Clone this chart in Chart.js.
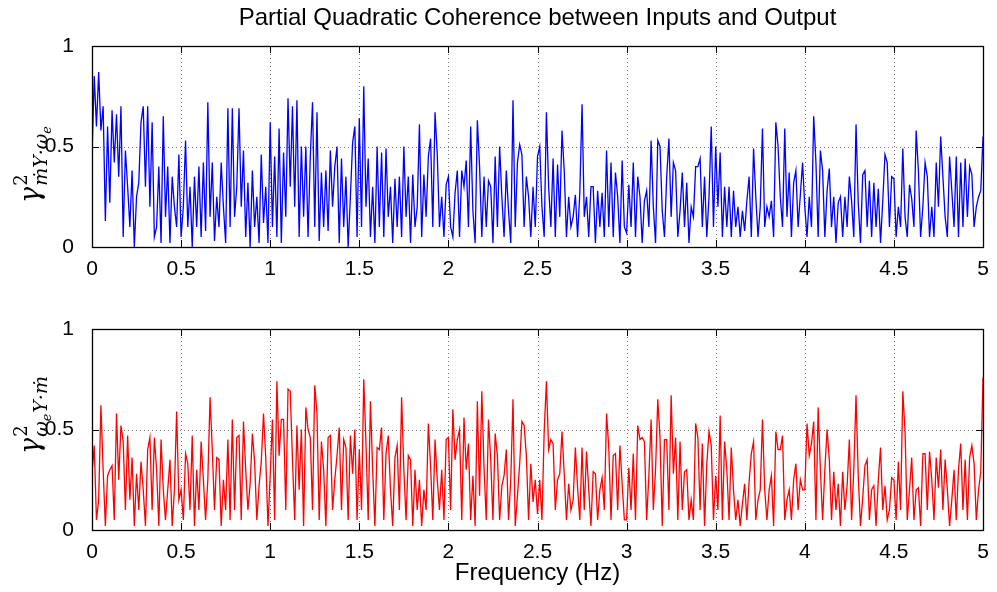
<!DOCTYPE html>
<html lang="en">
<head>
<meta charset="UTF-8">
<title>Partial Quadratic Coherence between Inputs and Output</title>
<script src="https://cdn.jsdelivr.net/npm/chart.js"></script>
<style>
    body { margin: 0; background: #fff; }
    .panel { position: absolute; left: 0; width: 997px; height: 296px; }
</style>
</head>
<body>
<div class="panel" style="top:0"><canvas id="topChart"></canvas></div>
<div class="panel" style="top:296px"><canvas id="bottomChart"></canvas></div>

<script>
// frequency axis 0..5 Hz, samples evenly spaced
var freqMax = 5;
var xTickStep = 0.5;
var yTickStep = 0.5;

// gamma^2 mdot Y . w_e  (blue, upper panel), one row per 0.5 Hz
var cohMdot = [
    0.45, 0.85, 0.6, 0.87, 0.58, 0.7, 0.13, 0.6, 0.22, 0.68, 0.42, 0.66, 0.35, 0.7, 0.05, 0.48, 0.3, 0.1, 0.38, 0.0, 0.25, 0.32, 0.62, 0.7, 0.3, 0.7, 0.2, 0.62, 0.05, 0.1, 0.4, 0.02, 0.65, 0.15, 0.4, 0.02, 0.35, 0.2, 0.1, 0.46,
    0.05, 0.2, 0.53, 0.1, 0.3, 0.0, 0.35, 0.1, 0.4, 0.05, 0.42, 0.08, 0.72, 0.15, 0.42, 0.03, 0.25, 0.1, 0.42, 0.2, 0.02, 0.69, 0.1, 0.69, 0.15, 0.3, 0.69, 0.2, 0.48, 0.05, 0.32, 0.0, 0.38, 0.1, 0.25, 0.02, 0.46, 0.12, 0.3, 0.02,
    0.62, 0.1, 0.45, 0.05, 0.59, 0.02, 0.47, 0.15, 0.74, 0.3, 0.7, 0.2, 0.73, 0.05, 0.5, 0.15, 0.5, 0.05, 0.45, 0.72, 0.1, 0.67, 0.03, 0.37, 0.1, 0.38, 0.08, 0.48, 0.2, 0.4, 0.5, 0.02, 0.44, 0.1, 0.35, 0.0, 0.25, 0.52, 0.6, 0.05,
    0.64, 0.1, 0.8, 0.2, 0.44, 0.05, 0.3, 0.02, 0.5, 0.1, 0.47, 0.05, 0.49, 0.15, 0.3, 0.02, 0.34, 0.1, 0.35, 0.05, 0.5, 0.15, 0.35, 0.02, 0.36, 0.1, 0.2, 0.61, 0.05, 0.36, 0.15, 0.45, 0.54, 0.1, 0.67, 0.46, 0.1, 0.25, 0.05, 0.31,
    0.35, 0.1, 0.05, 0.27, 0.38, 0.05, 0.38, 0.3, 0.43, 0.1, 0.6, 0.18, 0.02, 0.63, 0.4, 0.05, 0.35, 0.1, 0.33, 0.3, 0.02, 0.45, 0.1, 0.5, 0.25, 0.05, 0.38, 0.18, 0.02, 0.73, 0.1, 0.42, 0.51, 0.46, 0.1, 0.35, 0.25, 0.05, 0.3, 0.1,
    0.45, 0.5, 0.2, 0.05, 0.67, 0.3, 0.1, 0.44, 0.05, 0.41, 0.15, 0.58, 0.38, 0.05, 0.25, 0.1, 0.15, 0.26, 0.05, 0.27, 0.71, 0.15, 0.25, 0.05, 0.3, 0.3, 0.02, 0.28, 0.1, 0.27, 0.05, 0.48, 0.1, 0.42, 0.05, 0.37, 0.25, 0.02, 0.43, 0.1,
    0.07, 0.31, 0.1, 0.42, 0.05, 0.35, 0.25, 0.02, 0.23, 0.28, 0.1, 0.53, 0.2, 0.02, 0.53, 0.5, 0.18, 0.05, 0.35, 0.54, 0.15, 0.42, 0.38, 0.05, 0.18, 0.37, 0.1, 0.32, 0.02, 0.2, 0.15, 0.4, 0.4, 0.44, 0.1, 0.35, 0.05, 0.25, 0.6, 0.1,
    0.5, 0.2, 0.47, 0.05, 0.3, 0.1, 0.3, 0.05, 0.28, 0.1, 0.2, 0.05, 0.18, 0.08, 0.23, 0.35, 0.05, 0.49, 0.25, 0.05, 0.2, 0.59, 0.1, 0.2, 0.15, 0.23, 0.05, 0.62, 0.5, 0.25, 0.1, 0.59, 0.15, 0.37, 0.05, 0.32, 0.38, 0.1, 0.26, 0.42,
    0.2, 0.05, 0.25, 0.1, 0.65, 0.42, 0.05, 0.48, 0.38, 0.05, 0.28, 0.39, 0.1, 0.25, 0.02, 0.22, 0.25, 0.05, 0.25, 0.1, 0.35, 0.23, 0.05, 0.61, 0.22, 0.02, 0.36, 0.38, 0.1, 0.33, 0.05, 0.32, 0.1, 0.29, 0.02, 0.23, 0.46, 0.42, 0.1, 0.35,
    0.34, 0.05, 0.2, 0.1, 0.49, 0.15, 0.05, 0.31, 0.24, 0.1, 0.58, 0.38, 0.05, 0.2, 0.42, 0.35, 0.05, 0.2, 0.05, 0.42, 0.2, 0.55, 0.35, 0.15, 0.05, 0.45, 0.28, 0.1, 0.45, 0.05, 0.42, 0.1, 0.44, 0.15, 0.4, 0.36, 0.1, 0.2, 0.25, 0.28, 0.55
];

// gamma^2 w_e Y . mdot  (red, lower panel)
var cohWe = [
    0.28, 0.42, 0.05, 0.15, 0.62, 0.3, 0.02, 0.27, 0.3, 0.32, 0.05, 0.58, 0.25, 0.52, 0.44, 0.1, 0.47, 0.15, 0.36, 0.02, 0.28, 0.1, 0.34, 0.2, 0.02, 0.4, 0.46, 0.1, 0.46, 0.3, 0.02, 0.45, 0.2, 0.05, 0.2, 0.35, 0.02, 0.2, 0.59, 0.15,
    0.2, 0.05, 0.38, 0.33, 0.1, 0.47, 0.02, 0.3, 0.1, 0.44, 0.25, 0.05, 0.25, 0.66, 0.4, 0.1, 0.36, 0.35, 0.02, 0.25, 0.1, 0.45, 0.05, 0.55, 0.1, 0.46, 0.47, 0.05, 0.54, 0.3, 0.1, 0.23, 0.48, 0.34, 0.05, 0.22, 0.34, 0.58, 0.36, 0.02,
    0.27, 0.55, 0.05, 0.74, 0.37, 0.55, 0.55, 0.1, 0.7, 0.69, 0.35, 0.05, 0.52, 0.2, 0.5, 0.02, 0.61, 0.5, 0.46, 0.1, 0.72, 0.58, 0.05, 0.44, 0.3, 0.02, 0.46, 0.47, 0.1, 0.25, 0.37, 0.51, 0.1, 0.45, 0.41, 0.05, 0.47, 0.28, 0.5, 0.05,
    0.4, 0.1, 0.75, 0.43, 0.05, 0.64, 0.3, 0.02, 0.41, 0.4, 0.51, 0.05, 0.38, 0.47, 0.2, 0.02, 0.36, 0.42, 0.1, 0.66, 0.3, 0.05, 0.37, 0.35, 0.02, 0.3, 0.1, 0.25, 0.02, 0.2, 0.1, 0.53, 0.32, 0.05, 0.45, 0.25, 0.1, 0.3, 0.05, 0.45,
    0.46, 0.1, 0.6, 0.35, 0.45, 0.5, 0.05, 0.56, 0.3, 0.43, 0.05, 0.27, 0.02, 0.64, 0.17, 0.69, 0.31, 0.05, 0.55, 0.35, 0.05, 0.48, 0.37, 0.05, 0.22, 0.27, 0.4, 0.05, 0.25, 0.65, 0.02, 0.17, 0.33, 0.54, 0.52, 0.37, 0.05, 0.33, 0.14, 0.25,
    0.08, 0.25, 0.05, 0.49, 0.74, 0.4, 0.45, 0.43, 0.1, 0.25, 0.28, 0.49, 0.28, 0.05, 0.23, 0.1, 0.15, 0.41, 0.21, 0.05, 0.41, 0.1, 0.39, 0.2, 0.02, 0.29, 0.28, 0.05, 0.2, 0.26, 0.1, 0.58, 0.41, 0.05, 0.37, 0.38, 0.1, 0.42, 0.23, 0.05,
    0.05, 0.31, 0.1, 0.38, 0.05, 0.52, 0.45, 0.46, 0.44, 0.05, 0.27, 0.55, 0.1, 0.3, 0.65, 0.46, 0.02, 0.45, 0.45, 0.1, 0.67, 0.28, 0.46, 0.05, 0.44, 0.1, 0.29, 0.3, 0.05, 0.15, 0.05, 0.53, 0.46, 0.1, 0.43, 0.02, 0.33, 0.49, 0.42, 0.05,
    0.27, 0.1, 0.57, 0.05, 0.44, 0.3, 0.05, 0.41, 0.2, 0.05, 0.15, 0.02, 0.13, 0.23, 0.05, 0.24, 0.38, 0.44, 0.05, 0.15, 0.2, 0.55, 0.2, 0.05, 0.2, 0.27, 0.02, 0.49, 0.4, 0.4, 0.47, 0.05, 0.15, 0.2, 0.05, 0.25, 0.33, 0.1, 0.25, 0.2,
    0.2, 0.53, 0.37, 0.43, 0.54, 0.05, 0.61, 0.3, 0.05, 0.3, 0.5, 0.35, 0.05, 0.29, 0.1, 0.23, 0.02, 0.29, 0.1, 0.22, 0.45, 0.05, 0.3, 0.67, 0.27, 0.02, 0.16, 0.32, 0.35, 0.05, 0.2, 0.22, 0.02, 0.25, 0.41, 0.1, 0.22, 0.05, 0.1, 0.26,
    0.25, 0.05, 0.34, 0.1, 0.69, 0.49, 0.05, 0.2, 0.36, 0.05, 0.2, 0.21, 0.02, 0.38, 0.38, 0.1, 0.39, 0.25, 0.05, 0.36, 0.21, 0.4, 0.1, 0.35, 0.2, 0.02, 0.15, 0.3, 0.05, 0.3, 0.43, 0.1, 0.35, 0.05, 0.36, 0.42, 0.33, 0.05, 0.2, 0.29, 0.76
];

var titleText = 'Partial Quadratic Coherence between Inputs and Output';
var xLabelText = 'Frequency (Hz)';

function toPoints(vals) {
    var step = freqMax / (vals.length - 1);
    return vals.map(function (v, i) { return { x: i * step, y: v }; });
}

function fmt(v) { return String(Math.round(v * 10) / 10); }

// mathtext-like ylabel: gamma, superscript 2, italic subscript parts
function drawYLabel(ctx, x, y, parts) {
    ctx.save();
    ctx.translate(x, y);
    ctx.rotate(-Math.PI / 2);
    ctx.fillStyle = '#000';
    ctx.textBaseline = 'alphabetic';
    ctx.textAlign = 'left';
    ctx.font = 'italic 27px "DejaVu Serif"';
    ctx.fillText('\u03b3', 0, 0);
    var w = ctx.measureText('\u03b3').width + 1;
    ctx.font = '18px "DejaVu Serif"';
    ctx.fillText('2', w, -12);
    var cx = w;
    parts.forEach(function (p) {
        ctx.font = p.sub ? 'italic 13px "DejaVu Serif"' : 'italic 19px "DejaVu Serif"';
        ctx.fillText(p.t, cx, p.sub ? 12 : 8);
        cx += ctx.measureText(p.t).width + (p.sub ? 1 : 0);
    });
    ctx.restore();
}

// dotted grid under the data, at interior ticks only
var matlabGrid = {
    id: 'matlabGrid',
    beforeDatasetsDraw: function (chart) {
        var ctx = chart.ctx, a = chart.chartArea;
        var xs = chart.scales.x, ys = chart.scales.y;
        ctx.save();
        ctx.strokeStyle = '#7a7a7a';
        ctx.lineWidth = 1;
        ctx.setLineDash([1, 3]);
        ctx.beginPath();
        xs.ticks.forEach(function (t) {
            if (t.value <= xs.min || t.value >= xs.max) return;
            var px = Math.round(xs.getPixelForValue(t.value)) + 0.5;
            ctx.moveTo(px, a.top); ctx.lineTo(px, a.bottom);
        });
        ys.ticks.forEach(function (t) {
            if (t.value <= ys.min || t.value >= ys.max) return;
            var py = Math.round(ys.getPixelForValue(t.value)) + 0.5;
            ctx.moveTo(a.left, py); ctx.lineTo(a.right, py);
        });
        ctx.stroke();
        ctx.restore();
    }
};

var matlabFrame = {
    id: 'matlabFrame',
    afterDatasetsDraw: function (chart, args, opts) {
        var ctx = chart.ctx, a = chart.chartArea;
        var xs = chart.scales.x, ys = chart.scales.y;
        ctx.save();
        ctx.strokeStyle = '#000';
        ctx.lineWidth = 1;
        var tl = 7;
        ctx.beginPath();
        xs.ticks.forEach(function (t) {
            var px = Math.round(xs.getPixelForValue(t.value)) + 0.5;
            ctx.moveTo(px, a.bottom); ctx.lineTo(px, a.bottom - tl);
            ctx.moveTo(px, a.top); ctx.lineTo(px, a.top + tl);
        });
        ys.ticks.forEach(function (t) {
            var py = Math.round(ys.getPixelForValue(t.value)) + 0.5;
            ctx.moveTo(a.left, py); ctx.lineTo(a.left + tl, py);
            ctx.moveTo(a.right, py); ctx.lineTo(a.right - tl, py);
        });
        ctx.stroke();
        ctx.lineWidth = 1.3;
        ctx.strokeRect(Math.round(a.left) + 0.5, Math.round(a.top) + 0.5,
            Math.round(a.right - a.left), Math.round(a.bottom - a.top));
        ctx.restore();

        drawYLabel(ctx, opts.labelX, opts.labelY, opts.parts);

        ctx.save();
        ctx.fillStyle = '#000';
        ctx.textAlign = 'center';
        ctx.textBaseline = 'middle';
        ctx.font = '24px "Liberation Sans", Arial, sans-serif';
        if (opts.title) ctx.fillText(opts.title, (a.left + a.right) / 2, 18);
        if (opts.xlabel) ctx.fillText(opts.xlabel, (a.left + a.right) / 2, 277);
        ctx.restore();
    }
};

function makeChart(id, values, color, frame, xAxisHeight, padTop) {
    return new Chart(document.getElementById(id), {
        type: 'line',
        data: {
            datasets: [{
                data: toPoints(values),
                borderColor: color,
                borderWidth: 1.3,
                pointRadius: 0,
                tension: 0,
                fill: false
            }]
        },
        options: {
            responsive: true,
            maintainAspectRatio: false,
            animation: false,
            events: [],
            layout: { padding: { left: 0, right: 14, top: padTop, bottom: 0 } },
            plugins: {
                legend: { display: false },
                tooltip: { enabled: false },
                matlabFrame: frame
            },
            scales: {
                x: {
                    type: 'linear', min: 0, max: freqMax,
                    border: { display: false },
                    grid: { display: false },
                    ticks: {
                        stepSize: xTickStep, padding: 2, color: '#000', maxRotation: 0,
                        font: { family: 'Liberation Sans', size: 21 },
                        callback: function (v) { return fmt(v); }
                    },
                    afterFit: function (s) { s.height = xAxisHeight; }
                },
                y: {
                    min: 0, max: 1,
                    border: { display: false },
                    grid: { display: false },
                    ticks: {
                        stepSize: yTickStep, padding: 10, color: '#000',
                        font: { family: 'Liberation Sans', size: 21 },
                        callback: function (v) { return fmt(v); }
                    },
                    afterFit: function (s) { s.width = 92; }
                }
            }
        },
        plugins: [matlabGrid, matlabFrame]
    });
}

makeChart('topChart', cohMdot, '#0000ff', {
    title: titleText,
    labelX: 39, labelY: 203,
    parts: [{ t: '\u1e41Y\u00b7\u03c9' }, { t: 'e', sub: true }]
}, 49, 46);

makeChart('bottomChart', cohWe, '#ff0000', {
    xlabel: xLabelText,
    labelX: 39, labelY: 158,
    parts: [{ t: '\u03c9' }, { t: 'e', sub: true }, { t: 'Y\u00b7\u1e41' }]
}, 62, 33);
</script>
</body>
</html>
